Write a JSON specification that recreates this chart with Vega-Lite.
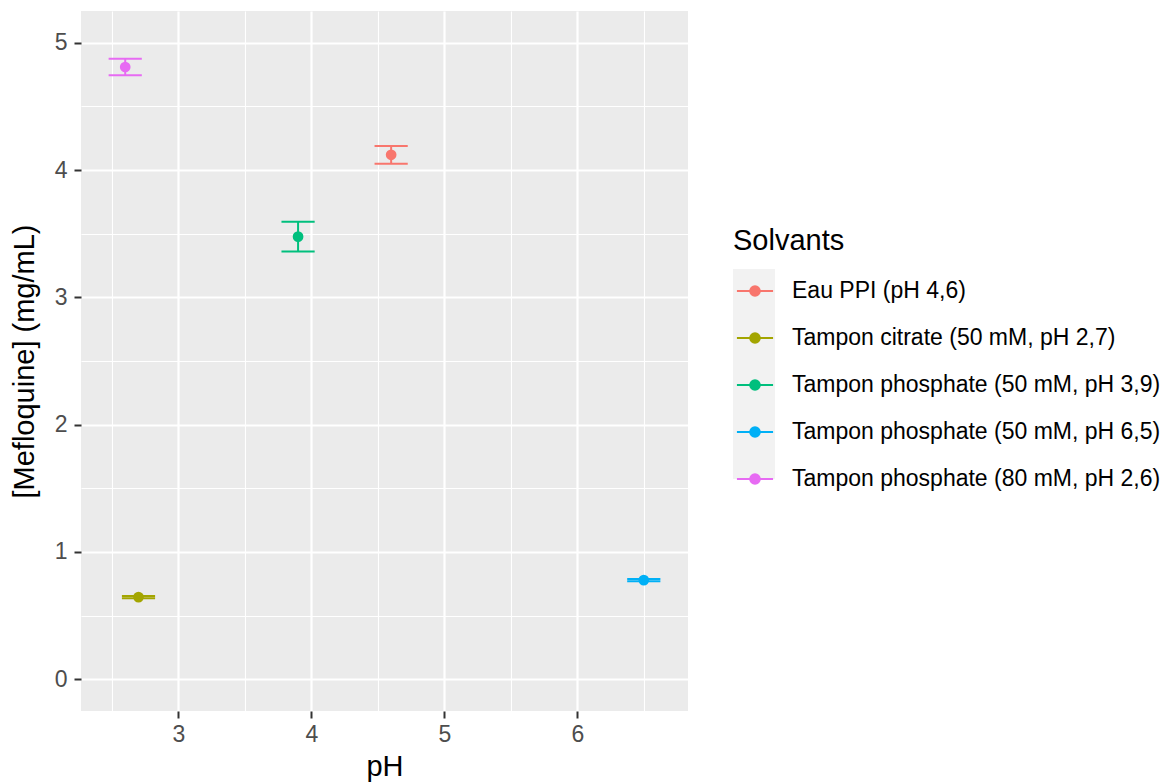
{
  "$schema": "https://vega.github.io/schema/vega-lite/v6.json",
  "autosize": {"type": "none"},
  "padding": {"left": 81, "top": 11, "right": 488, "bottom": 72},
  "width": 607,
  "height": 700,
  "background": "white",
  "config": {
    "view": {"fill": "#EBEBEB", "stroke": null},
    "font": "Liberation Sans",
    "axis": {
      "domain": false,
      "grid": true,
      "gridColor": "white",
      "tickColor": "#333333",
      "tickWidth": 2,
      "tickSize": 7,
      "format": "d",
      "labelFont": "Liberation Sans",
      "labelFontSize": 23,
      "labelColor": "#4D4D4D",
      "titleFont": "Liberation Sans",
      "titleFontSize": 29,
      "titleFontWeight": "normal",
      "titleColor": "black"
    },
    "legend": {
      "orient": "none",
      "legendX": 652,
      "legendY": 216,
      "padding": 0,
      "titleFont": "Liberation Sans",
      "titleFontSize": 29,
      "titleFontWeight": "normal",
      "titleColor": "black",
      "titlePadding": 13,
      "labelFont": "Liberation Sans",
      "labelFontSize": 23,
      "labelColor": "black",
      "labelOffset": 15,
      "labelLimit": 0,
      "rowPadding": -4,
      "symbolSize": 1764
    }
  },
  "data": {
    "values": [
      {"Solvant": "Eau PPI (pH 4,6)", "pH": 4.6, "mean": 4.12, "lo": 4.05, "hi": 4.19},
      {"Solvant": "Tampon citrate (50 mM, pH 2,7)", "pH": 2.7, "mean": 0.645, "lo": 0.636, "hi": 0.654},
      {"Solvant": "Tampon phosphate (50 mM, pH 3,9)", "pH": 3.9, "mean": 3.477, "lo": 3.36, "hi": 3.595},
      {"Solvant": "Tampon phosphate (50 mM, pH 6,5)", "pH": 6.5, "mean": 0.778, "lo": 0.769, "hi": 0.787},
      {"Solvant": "Tampon phosphate (80 mM, pH 2,6)", "pH": 2.6, "mean": 4.81, "lo": 4.745, "hi": 4.875}
    ]
  },
  "layer": [
    {
      "mark": {"type": "point", "filled": true, "size": 0, "opacity": 0},
      "encoding": {
        "x": {"field": "pH", "type": "quantitative",
              "scale": {"domain": [2.2675, 6.8325], "nice": false, "zero": false},
              "title": "pH",
              "axis": {"values": [2.5, 3, 3.5, 4, 4.5, 5, 5.5, 6, 6.5],
                       "labelExpr": "datum.value % 1 === 0 ? datum.label : ''",
                       "gridWidth": {"condition": {"test": "datum.value % 1 !== 0", "value": 1.1}, "value": 2.2},
                       "tickOpacity": {"condition": {"test": "datum.value % 1 !== 0", "value": 0}, "value": 1},
                       "labelPadding": 5, "titleY": 64, "titleBaseline": "alphabetic"}},
        "y": {"field": "mean", "type": "quantitative",
              "scale": {"domain": [-0.25, 5.25], "nice": false, "zero": false},
              "title": "[Mefloquine] (mg/mL)",
              "axis": {"values": [0, 0.5, 1, 1.5, 2, 2.5, 3, 3.5, 4, 4.5, 5],
                       "labelExpr": "datum.value % 1 === 0 ? datum.label : ''",
                       "gridWidth": {"condition": {"test": "datum.value % 1 !== 0", "value": 1.1}, "value": 2.2},
                       "tickOpacity": {"condition": {"test": "datum.value % 1 !== 0", "value": 0}, "value": 1},
                       "labelPadding": 7, "titleX": -48, "titleBaseline": "alphabetic"}},
        "fill": {"field": "Solvant", "type": "nominal",
                 "scale": {"range": ["#F2F2F2", "#F2F2F2", "#F2F2F2", "#F2F2F2", "#F2F2F2"]},
                 "legend": {"title": "Solvants", "zindex": 1, "symbolType": "square", "titleColor": "rgba(0,0,0,0)", "labelColor": "rgba(0,0,0,0)",
                            "encode": {"symbols": {"update": {"fill": {"value": "#F2F2F2"}, "stroke": {"value": "transparent"}, "strokeWidth": {"value": 0}, "opacity": {"value": 1}, "size": {"value": 1764}, "shape": {"value": "square"}}}}}}
      }
    },
    {
      "mark": {"type": "rule", "strokeWidth": 2},
      "encoding": {
        "x": {"field": "pH", "type": "quantitative"},
        "y": {"field": "lo", "type": "quantitative"},
        "y2": {"field": "hi"},
        "color": {"field": "Solvant", "type": "nominal",
                  "scale": {"range": ["#F8766D", "#A3A500", "#00BF7D", "#00B0F6", "#E76BF3"]},
                  "legend": {"title": "Solvants", "zindex": 2,
                             "symbolType": "M-0.86,0L0.86,0M0.23,0A0.23,0.23 0 1,1 -0.23,0A0.23,0.23 0 1,1 0.23,0M-1,-1M1,1",
                             "symbolStrokeWidth": 2,
                             "encode": {"symbols": {"update": {"fill": {"scale": "color", "field": "value"}, "stroke": {"scale": "color", "field": "value"}, "strokeWidth": {"value": 2}, "opacity": {"value": 1}, "size": {"value": 1764}, "shape": {"value": "M-0.86,0L0.86,0M0.23,0A0.23,0.23 0 1,1 -0.23,0A0.23,0.23 0 1,1 0.23,0M-1,-1M1,1"}}}}}}
      }
    },
    {
      "mark": {"type": "tick", "orient": "horizontal", "size": 33.2, "thickness": 2, "opacity": 1},
      "encoding": {
        "x": {"field": "pH", "type": "quantitative"},
        "y": {"field": "lo", "type": "quantitative"},
        "color": {"field": "Solvant", "type": "nominal"}
      }
    },
    {
      "mark": {"type": "tick", "orient": "horizontal", "size": 33.2, "thickness": 2, "opacity": 1},
      "encoding": {
        "x": {"field": "pH", "type": "quantitative"},
        "y": {"field": "hi", "type": "quantitative"},
        "color": {"field": "Solvant", "type": "nominal"}
      }
    },
    {
      "mark": {"type": "point", "filled": true, "size": 115, "opacity": 1},
      "encoding": {
        "x": {"field": "pH", "type": "quantitative"},
        "y": {"field": "mean", "type": "quantitative"},
        "color": {"field": "Solvant", "type": "nominal"}
      }
    }
  ]
}
